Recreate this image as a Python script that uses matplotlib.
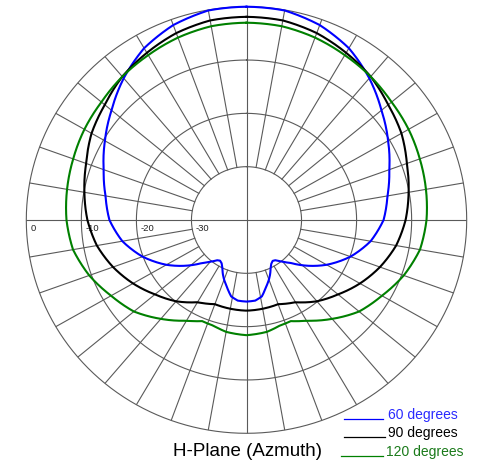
import numpy as np
import matplotlib
matplotlib.use("Agg")
import matplotlib.pyplot as plt
from matplotlib.lines import Line2D

plt.rcParams["font.family"] = ["Liberation Sans", "DejaVu Sans"]

# half pattern (0 = front/top, 180 = back), mirrored for the other side
blue_deg = [0, 10, 20, 30, 40, 50, 60, 70, 80, 90, 100, 110, 120, 125, 130, 135,
            140, 145, 148, 151, 154, 157, 160, 164, 169, 174, 180]
blue_db = [0.0, -0.1, -1.1, -2.8, -5.3, -8.0, -10.3, -12.4, -14.0, -15.1, -17.1, -19.9,
           -23.2, -25.0, -26.8, -28.6, -29.8, -30.8, -31.0, -30.7, -30.0, -29.0, -28.1,
           -27.0, -25.4, -24.8, -24.7]

black_deg = [0, 10, 20, 30, 40, 50, 60, 70, 80, 90, 100, 110, 120, 130, 140, 150,
             160, 170, 180]
black_db = [-1.9, -2.0, -2.7, -3.8, -4.9, -6.4, -7.5, -9.0, -10.1, -11.1, -12.4, -14.2,
            -16.2, -18.3, -20.1, -22.2, -23.2, -23.1, -23.0]

green_deg = [0, 10, 20, 30, 40, 50, 60, 70, 80, 90, 100, 110, 120, 130, 140, 150,
             157, 163, 170, 180]
green_db = [-3.0, -3.1, -3.6, -4.3, -4.9, -5.6, -6.0, -6.5, -6.9, -7.3, -8.0, -9.6,
            -11.6, -13.3, -15.8, -18.2, -19.4, -19.3, -18.7, -18.4]

ring_db = [-30, -20, -10, 0]
ring_labels = ["-30", "-20", "-10", "0"]
series = [
    ("60 degrees", blue_deg, blue_db, "#0000ff"),
    ("90 degrees", black_deg, black_db, "#000000"),
    ("120 degrees", green_deg, green_db, "#008000"),
]
legend_text_colors = ["#2a2aff", "#000000", "#1a7a1a"]


def mirrored(deg, db):
    deg = np.asarray(deg, float)
    db = np.asarray(db, float)
    full_deg = np.concatenate([deg, 360 - deg[::-1][1:]])
    full_db = np.concatenate([db, db[::-1][1:]])
    return np.deg2rad(full_deg), full_db


W, H = 478, 462
fig = plt.figure(figsize=(W / 100, H / 100), dpi=100)
ax = fig.add_axes([26.3 / W, (H - 433.3) / H, 440.4 / W, 426.6 / H], projection="polar")
ax.set_aspect("auto")
ax.set_theta_zero_location("N")
ax.set_theta_direction(-1)
ax.set_ylim(-40, 0)
ax.grid(False)
ax.set_xticks([])
ax.set_yticks([])
ax.spines["polar"].set_visible(False)

grid_kw = dict(color="#5a5a5a", lw=0.8, zorder=1)
t = np.linspace(0, 2 * np.pi, 721)
for r in ring_db:
    ax.plot(t, np.full_like(t, r), clip_on=False, **grid_kw)
for a in range(0, 360, 10):
    th = np.deg2rad(a)
    if a % 90 == 0:
        ax.plot([th, th], [-40, 0], **grid_kw)
    else:
        ax.plot([th, th], [-30, 0], **grid_kw)

for r, lab in zip(ring_db, ring_labels):
    ax.annotate(lab, xy=(np.deg2rad(270), r), xytext=(3.2, -3.2),
                textcoords="offset points", ha="left", va="top", fontsize=6.8,
                color="#222222")

for name, deg, db, col in series:
    th, rr = mirrored(deg, db)
    line, = ax.plot(th, rr, color=col, lw=1.5, zorder=3, clip_on=False)
    # let the polar transform draw each segment as a curve in (theta, r)
    line.get_path()._interpolation_steps = 30

# legend drawn by hand, as in the original
leg_rows = [(419.0, 344, 383, 388), (437.3, 344, 385, 388), (456.0, 341, 383, 386)]
for (y, x0, x1, xt), (name, _, _, col), tcol in zip(leg_rows, series, legend_text_colors):
    fig.add_artist(Line2D([x0 / W, x1 / W], [1 - y / H, 1 - y / H], color=col, lw=0.9))
    fig.text(xt / W, 1 - y / H, name, ha="left", va="baseline", fontsize=10, color=tcol)

fig.text(247 / W, 1 - 451 / H, "H-Plane (Azmuth)", ha="center", va="center", fontsize=13.5)

fig.savefig("out.png", dpi=100)
